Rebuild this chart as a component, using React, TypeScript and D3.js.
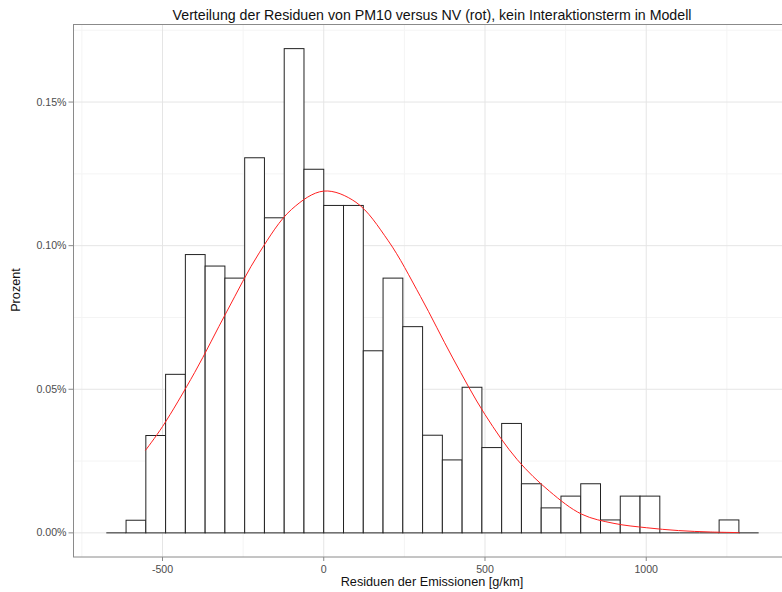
import React from 'react';
import * as d3 from 'd3';

// histogram of residuals, values in percent (density * 100), one entry per bin
const binWidth = 61.3;
const binStarts = [-11, -10, -9, -8, -7, -6, -5, -4, -3, -2, -1, 0, 1, 2, 3, 4, 5, 6, 7, 8, 9, 10, 11, 12, 13, 14, 15, 16, 17, 18, 19, 20, 21];
const binValues = [
  0, 0.0044, 0.0339, 0.0552, 0.0969, 0.0929, 0.0887, 0.1306, 0.1097, 0.1686, 0.1266,
  0.114, 0.114, 0.0634, 0.0887, 0.0718, 0.034, 0.0254, 0.0507, 0.0297, 0.0381,
  0.0171, 0.0087, 0.0128, 0.0171, 0.0045, 0.0128, 0.0128, 0, 0, 0, 0.0045, 0,
];

// red normal curve
const curveX = [-553, -500, -400, -300, -200, -100, 0, 100, 200, 300, 400, 500, 600, 700, 800, 900, 1000, 1100, 1200, 1289];
const curveY = [0.0287, 0.037, 0.0559, 0.0772, 0.0975, 0.1126, 0.119, 0.1151, 0.1017, 0.0823, 0.0609, 0.0412, 0.0255, 0.0145, 0.0065, 0.0033, 0.0018, 0.0008, 0.0003, 0.0001];

const xTicks = [-500, 0, 500, 1000];
const xMinor = [-750, -250, 250, 750, 1250];
const yTicks = [0, 0.05, 0.1, 0.15];
const yMinor = [0.025, 0.075, 0.125, 0.175];

const W = 782;
const H = 592;
const left = 73.5;
const top = 24.5;
const bottom = 557;
const right = 792;

const font = "'Liberation Sans', Arial, sans-serif";

export default function App() {
  const x = d3.scaleLinear().domain([-776, 1452]).range([left, right]);
  const y = d3.scaleLinear().domain([-0.0084, 0.177]).range([bottom, top]);

  const line = d3.line<number>()
    .x((_, i) => x(curveX[i]))
    .y(d => y(d))
    .curve(d3.curveCatmullRom);

  return (
    <svg width={W} height={H} style={{ position: 'absolute', left: 0, top: 0, background: '#fff' }}
      fontFamily={font}>
      <defs>
        <clipPath id="panel">
          <rect x={left} y={top} width={right - left} height={bottom - top} />
        </clipPath>
      </defs>
      <g clipPath="url(#panel)">
        {xMinor.map(v => (
          <line key={'xm' + v} x1={x(v)} x2={x(v)} y1={top} y2={bottom} stroke="#f4f4f4" strokeWidth={1} />
        ))}
        {yMinor.map(v => (
          <line key={'ym' + v} x1={left} x2={right} y1={y(v)} y2={y(v)} stroke="#f4f4f4" strokeWidth={1} />
        ))}
        {xTicks.map(v => (
          <line key={'xg' + v} x1={x(v)} x2={x(v)} y1={top} y2={bottom} stroke="#e5e5e5" strokeWidth={1} />
        ))}
        {yTicks.map(v => (
          <line key={'yg' + v} x1={left} x2={right} y1={y(v)} y2={y(v)} stroke="#e5e5e5" strokeWidth={1} />
        ))}
        {binStarts.map((k, i) => {
          const x0 = x(k * binWidth);
          const x1 = x((k + 1) * binWidth);
          const y0 = y(0);
          const y1 = y(binValues[i]);
          if (binValues[i] === 0) {
            return <line key={'b' + k} x1={x0} x2={x1} y1={y0} y2={y0} stroke="#222" strokeWidth={1} />;
          }
          return (
            <rect key={'b' + k} x={x0} y={y1} width={x1 - x0} height={y0 - y1}
              fill="#fff" stroke="#222" strokeWidth={1} />
          );
        })}
        <path d={line(curveY) || ''} fill="none" stroke="#ff2020" strokeWidth={1} />
      </g>
      <rect x={left} y={top} width={right - left} height={bottom - top} fill="none" stroke="#8a8a8a" strokeWidth={1} />

      {yTicks.map(v => (
        <g key={'yt' + v}>
          <line x1={left - 5} x2={left} y1={y(v)} y2={y(v)} stroke="#8a8a8a" />
          <text x={left - 7} y={y(v) + 3.5} textAnchor="end" fontSize={10.6} fill="#4d4d4d">
            {v.toFixed(2) + '%'}
          </text>
        </g>
      ))}
      {xTicks.map(v => (
        <g key={'xt' + v}>
          <line x1={x(v)} x2={x(v)} y1={bottom} y2={bottom + 4} stroke="#8a8a8a" />
          <text x={x(v)} y={573} textAnchor="middle" fontSize={10.6} fill="#4d4d4d">{v}</text>
        </g>
      ))}

      <text x={432} y={19.5} textAnchor="middle" fontSize={14.2} fill="#111">
        Verteilung der Residuen von PM10 versus NV (rot), kein Interaktionsterm in Modell
      </text>
      <text x={432} y={586} textAnchor="middle" fontSize={12.7} fill="#111">
        Residuen der Emissionen [g/km]
      </text>
      <text transform="translate(20,290) rotate(-90)" textAnchor="middle" fontSize={12.7} fill="#111">
        Prozent
      </text>
    </svg>
  );
}
